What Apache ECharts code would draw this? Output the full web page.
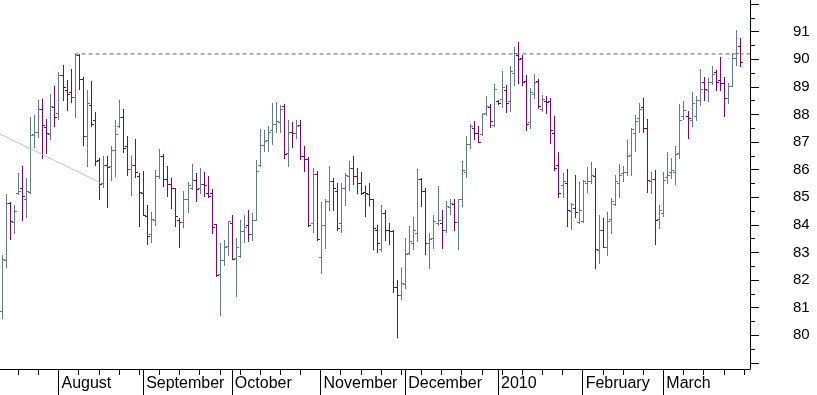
<!DOCTYPE html>
<html>
<head>
<meta charset="utf-8">
<script src="https://cdn.jsdelivr.net/npm/echarts@6/dist/echarts.min.js"></script>
<style>
html,body{margin:0;padding:0;background:#fff;}
#chart{width:817px;height:395px;}
</style>
</head>
<body>
<div id="chart"></div>
<script>
// ---- data (daily OHLC bars, weekdays from 2009-07-14) ----
const OPEN = [80.86,82.72,84.80,84.10,85.16,85.34,84.92,85.20,87.30,87.35,88.19,87.54,87.30,88.27,88.05,89.42,88.87,88.80,88.63,90.17,
89.30,87.20,88.35,87.81,86.36,85.52,86.17,86.12,86.72,87.57,87.90,86.87,86.02,86.17,85.76,85.17,84.31,83.65,84.19,85.76,
86.51,85.66,85.49,85.33,84.19,84.10,84.94,85.34,85.64,85.34,85.49,85.16,85.16,84.02,82.20,82.72,83.23,84.07,82.81,82.87,
83.77,83.99,83.65,84.19,86.18,86.90,87.06,87.45,87.65,87.71,88.31,86.60,87.37,87.33,87.61,86.48,86.39,84.07,85.84,82.82,
83.98,84.86,85.59,85.23,84.07,85.34,85.76,86.06,85.78,85.52,85.18,85.10,84.92,83.83,83.11,84.41,83.83,83.77,81.75,81.45,
81.84,82.99,83.33,83.69,85.66,85.23,83.33,83.52,84.07,84.07,83.80,84.64,84.77,84.11,84.92,85.90,86.94,87.51,87.33,87.30,
88.05,88.27,87.63,88.47,88.57,88.89,88.47,89.49,90.17,90.05,89.22,87.72,88.75,89.22,88.19,88.49,88.47,87.33,86.17,85.45,
85.52,84.49,84.61,84.11,84.12,85.52,85.59,85.78,83.08,83.80,83.20,84.22,84.77,85.52,85.86,85.92,86.54,87.33,87.87,88.27,
87.51,85.58,85.66,84.22,84.41,85.73,85.90,85.93,86.60,87.93,87.93,87.81,87.93,88.51,89.16,88.89,89.16,89.52,89.25,89.13,
88.58,89.04,90.04,90.48];
const HIGH = [82.89,85.10,84.82,84.72,85.86,86.14,85.71,87.90,87.98,88.51,88.55,87.83,88.73,89.04,89.53,89.80,89.25,89.64,90.19,90.19,
89.35,88.89,89.22,88.10,86.42,86.51,86.48,86.87,87.81,88.51,88.20,87.20,86.51,87.12,85.86,85.96,84.70,84.46,86.00,86.76,
86.58,86.12,85.71,85.34,84.23,85.24,85.55,86.22,85.86,86.07,85.93,85.78,85.31,84.02,83.33,83.45,84.14,84.37,83.54,84.16,
84.37,84.52,84.41,86.36,87.48,87.45,87.59,88.41,88.45,88.35,88.37,87.81,87.73,87.81,87.81,86.84,86.46,86.07,85.96,84.81,
84.95,86.14,85.70,85.52,85.52,85.86,86.30,86.51,86.07,85.93,85.40,85.52,84.94,84.01,84.73,84.52,84.08,83.81,81.99,82.43,
83.52,83.95,84.28,86.04,85.69,85.35,83.69,84.37,85.40,84.55,84.88,84.95,84.95,84.94,86.30,87.23,87.66,87.77,87.57,88.05,
88.65,88.37,89.11,88.53,89.58,89.07,89.76,90.46,90.63,90.14,89.43,88.95,89.46,89.29,88.71,88.65,88.59,87.95,86.65,85.88,
86.04,84.80,85.82,85.55,85.64,86.11,86.29,86.06,84.37,84.23,84.45,84.98,85.82,86.22,86.12,87.08,87.51,87.99,88.41,88.59,
87.83,85.92,86.00,84.73,85.93,86.63,86.41,86.84,88.36,88.47,88.11,88.80,88.65,89.65,89.37,89.31,89.76,89.61,90.07,89.35,
89.14,90.22,91.06,90.76];
const LOW = [80.61,82.47,83.49,83.71,85.13,84.17,84.29,85.17,86.82,87.18,86.42,86.60,87.11,87.57,87.83,88.51,88.17,88.45,87.89,88.93,
86.90,86.12,87.57,86.18,84.94,85.37,84.64,85.61,85.76,87.54,86.63,85.82,85.07,85.72,83.95,84.34,83.31,83.37,83.99,85.69,
85.40,85.04,84.60,83.95,83.19,83.92,84.46,85.28,84.88,85.17,85.04,85.00,83.71,82.14,80.73,82.53,82.89,82.77,81.42,82.84,
83.37,83.41,83.45,84.17,86.14,86.69,86.66,86.93,87.35,87.35,86.41,86.12,86.81,87.13,86.39,85.94,83.95,83.75,83.46,82.27,
83.16,84.55,84.53,83.83,83.75,84.71,85.25,85.48,85.16,85.11,84.31,84.70,83.14,83.01,83.05,83.45,83.30,81.57,79.92,81.33,
81.72,82.93,83.13,83.41,84.67,82.95,82.45,83.16,83.99,83.16,83.73,84.40,83.83,83.11,84.67,85.73,86.80,87.11,86.99,87.25,
87.99,87.53,87.57,88.37,88.27,88.07,88.11,89.07,89.13,89.05,87.45,87.52,88.61,88.23,88.14,88.05,86.96,85.98,85.00,85.00,
83.95,83.86,84.28,84.05,84.10,85.20,85.52,82.43,82.60,83.19,82.90,83.71,84.71,85.00,85.58,85.82,85.82,86.69,87.35,87.35,
85.18,85.16,83.31,83.89,84.31,85.52,85.70,85.49,86.42,87.83,87.14,87.59,87.78,88.35,88.51,88.47,89.11,88.87,88.87,87.94,
88.41,89.04,89.79,89.77];
const CLOSE = [82.75,84.80,84.12,84.51,85.23,85.06,85.22,87.25,87.35,88.19,87.61,87.33,88.29,87.90,89.42,88.99,88.75,88.63,90.17,89.28,
87.20,88.41,87.66,86.30,85.48,86.17,86.10,86.72,87.29,87.90,86.78,86.02,86.17,85.90,85.20,84.34,83.61,84.22,85.78,86.51,
85.66,85.49,85.33,84.33,84.11,84.94,85.45,85.64,85.30,85.49,85.45,85.04,83.93,82.17,82.72,83.20,84.12,82.77,83.20,83.77,
83.93,83.65,84.19,85.96,86.90,87.05,87.36,87.65,87.75,88.19,86.58,87.37,87.33,87.59,86.51,86.39,83.98,85.84,83.47,83.98,
84.88,85.59,85.34,83.89,85.34,85.81,86.06,85.78,85.52,85.16,85.14,84.92,83.89,83.33,84.41,83.83,83.77,81.76,81.45,81.90,
82.95,83.41,83.80,85.66,85.23,83.33,83.49,84.12,84.19,83.80,84.67,84.80,84.11,84.92,85.98,86.94,87.57,87.33,87.00,88.01,
88.31,87.77,88.92,88.41,89.01,88.43,89.59,90.22,90.00,89.16,87.66,88.80,89.16,88.31,88.55,88.46,87.45,86.06,85.16,85.58,
84.53,84.76,84.47,84.53,85.58,85.59,85.82,83.11,83.83,83.20,84.12,84.86,85.57,85.81,85.92,86.48,87.47,87.75,88.19,87.51,
85.61,85.66,84.19,84.54,85.64,85.82,85.98,86.58,87.81,88.17,87.86,88.41,88.51,88.93,88.92,89.16,89.46,89.19,89.13,88.59,
89.04,90.04,90.22,89.89];

// horizontal resistance line (from bar index, level) and fading trend line
const RESIST_FROM = 18, RESIST_LEVEL = 90.19;
const TREND_X = [-0.5, 24.5], TREND_Y = [87.29, 85.52];

// axis ranges and tick labels
const Y_MIN = 78.776, Y_MAX = 92.145;
const Y_LABELS = [80,81,82,83,84,85,86,87,88,89,90,91];
const Y_MAJOR = [79,80,81,82,83,84,85,86,87,88,89,90,91,92];
const Y_MINOR = [79.5,80.5,81.5,82.5,83.5,84.5,85.5,86.5,87.5,88.5,89.5,90.5,91.5];
const MONTH_NAMES = ['2010','February','March','April','May','June','July','August','September','October','November','December'];

// ---- categories: weekdays (incl. slots beyond the last bar) ----
const SLOTS = 186;
const dates = [];
for (let d = new Date(Date.UTC(2009, 6, 14)); dates.length < SLOTS; d.setUTCDate(d.getUTCDate() + 1)) {
  const wd = d.getUTCDay();
  if (wd === 0 || wd === 6) continue;
  dates.push(d.toISOString().slice(0, 10));
}
const isMonday = i => new Date(dates[i] + 'T00:00:00Z').getUTCDay() === 1;
const isMonthStart = i => i > 0 && dates[i].slice(5, 7) !== dates[i - 1].slice(5, 7);

const PURPLE = '#800080', GRAY = '#5f7d84';
const bars = OPEN.map((o, i) => [i, o, HIGH[i], LOW[i], CLOSE[i]]);
const FONT = 'Liberation Sans, Arial, sans-serif';

const chart = echarts.init(document.getElementById('chart'), null, {renderer: 'canvas'});
chart.setOption({
  animation: false,
  backgroundColor: '#ffffff',
  grid: {left: -1, right: 67, top: 0, bottom: 26, containLabel: false},
  xAxis: [
    {type: 'value', min: -0.5, max: SLOTS - 0.5, show: false, axisLine: {onZero: false}},
    {type: 'category', data: dates, position: 'bottom', offset: 0, boundaryGap: true,
      axisLine: {show: true, onZero: false, lineStyle: {color: '#000', width: 1}},
      axisTick: {show: true, alignWithLabel: true, length: 6, interval: (i) => isMonday(i), lineStyle: {color: '#000'}},
      axisLabel: {show: false}, splitLine: {show: false}},
    {type: 'category', data: dates, position: 'bottom', offset: 0, boundaryGap: true,
      axisLine: {show: false, onZero: false},
      axisTick: {show: true, alignWithLabel: true, length: 26, interval: (i) => isMonthStart(i), lineStyle: {color: '#000'}},
      axisLabel: {show: true, interval: (i) => isMonthStart(i), align: 'left', margin: 7, padding: [0, 0, 0, 3],
        fontFamily: FONT, fontSize: 16, color: '#000',
        formatter: (v) => MONTH_NAMES[parseInt(v.slice(5, 7), 10) - 1]},
      splitLine: {show: false}}
  ],
  yAxis: [
    {type: 'value', position: 'right', min: Y_MIN, max: Y_MAX, offset: 0,
      axisLine: {show: true, onZero: false, lineStyle: {color: '#000', width: 1}},
      axisTick: {show: true, length: 9, customValues: Y_MAJOR, lineStyle: {color: '#000'}},
      axisLabel: {show: true, customValues: Y_LABELS, margin: 43, align: 'left',
        fontFamily: FONT, fontSize: 15, color: '#000'},
      splitLine: {show: false}},
    {type: 'value', position: 'right', min: Y_MIN, max: Y_MAX, offset: 0,
      axisLine: {show: false, onZero: false},
      axisTick: {show: true, length: 5, customValues: Y_MINOR, lineStyle: {color: '#000'}},
      axisLabel: {show: false}, splitLine: {show: false}}
  ],
  series: [
    {type: 'line', xAxisIndex: 0, yAxisIndex: 0, silent: true, symbol: 'none',
      data: TREND_X.map((x, k) => [x, TREND_Y[k]]),
      lineStyle: {color: '#c4c4c4', width: 1}},
    {type: 'line', xAxisIndex: 0, yAxisIndex: 0, silent: true, symbol: 'none',
      data: [[RESIST_FROM, RESIST_LEVEL], [SLOTS - 0.5, RESIST_LEVEL]],
      lineStyle: {color: '#666666', width: 1, type: [4, 3]}},
    {type: 'custom', xAxisIndex: 0, yAxisIndex: 0, silent: true, data: bars,
      renderItem: function (params, api) {
        const i = api.value(0), o = api.value(1), h = api.value(2), l = api.value(3), c = api.value(4);
        const ph = api.coord([i, h]), pl = api.coord([i, l]), po = api.coord([i, o]), pc = api.coord([i, c]);
        const x = Math.round(ph[0]) + 0.5;
        const yo = Math.round(po[1]) + 0.5, yc = Math.round(pc[1]) + 0.5;
        const style = {stroke: c < o ? PURPLE : GRAY, lineWidth: 1, fill: null};
        return {type: 'group', children: [
          {type: 'line', shape: {x1: x, y1: Math.round(ph[1]), x2: x, y2: Math.round(pl[1]) + 1}, style: style},
          {type: 'line', shape: {x1: x - 2.5, y1: yo, x2: x, y2: yo}, style: style},
          {type: 'line', shape: {x1: x, y1: yc, x2: x + 2.5, y2: yc}, style: style}
        ]};
      }}
  ]
});
</script>
</body>
</html>
